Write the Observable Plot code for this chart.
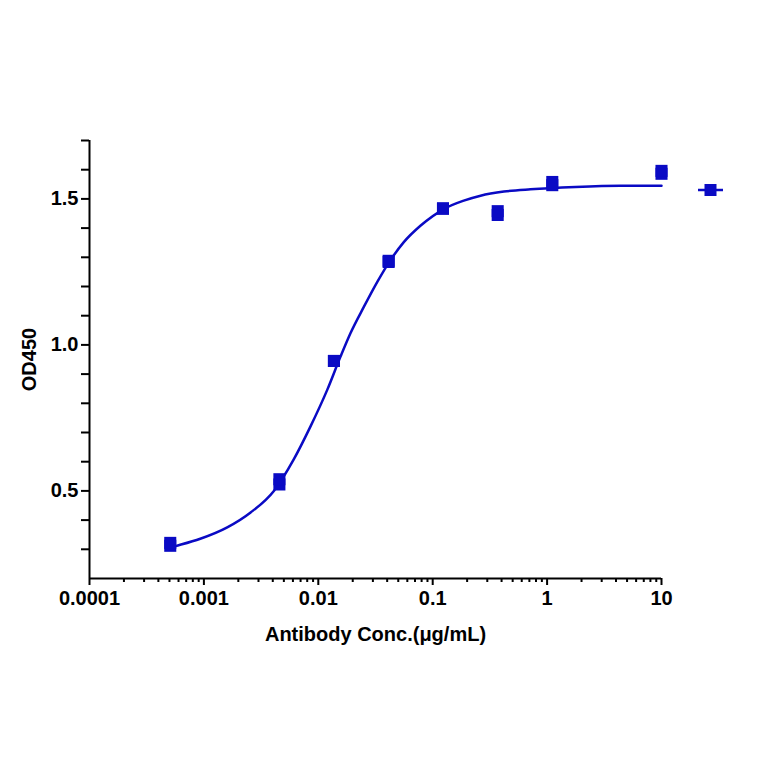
<!DOCTYPE html>
<html>
<head>
<meta charset="utf-8">
<script src="https://cdn.jsdelivr.net/npm/d3@7"></script>
<script src="https://cdn.jsdelivr.net/npm/@observablehq/plot@0.6"></script>
<style>
  html, body { margin: 0; padding: 0; background: #ffffff; }
  #wrap { position: relative; width: 764px; height: 764px; }
  #legend { position: absolute; left: 696px; top: 183px; }
</style>
</head>
<body>
<div id="wrap">
  <div id="chart"></div>
  <div id="legend"></div>
</div>
<script>
// Concentrations (µg/mL) of measured points, two replicates each
const conc = [0.000508, 0.00457, 0.0137, 0.0412, 0.123, 0.370, 1.11, 10];
const rep1 = [0.312, 0.522, 0.945, 1.284, 1.466, 1.445, 1.547, 1.586];
const rep2 = [0.322, 0.540, 0.945, 1.288, 1.468, 1.458, 1.558, 1.596];

// Fitted curve
const curveX = [0.000508, 0.000565, 0.00093, 0.0016, 0.00256, 0.00409, 0.0061, 0.00855, 0.01197, 0.01564, 0.0191, 0.025, 0.0327, 0.0422, 0.0559, 0.0781, 0.1276, 0.187, 0.262, 0.419, 0.716, 1.77, 4.38, 10];
const curveY = [0.306, 0.311, 0.336, 0.375, 0.426, 0.500, 0.608, 0.721, 0.846, 0.960, 1.040, 1.130, 1.215, 1.287, 1.352, 1.408, 1.467, 1.494, 1.511, 1.525, 1.533, 1.541, 1.545, 1.545];

// Axis ticks
const xMajorTicks = [0.0001, 0.001, 0.01, 0.1, 1, 10];
const xMajorLabels = ["0.0001", "0.001", "0.01", "0.1", "1", "10"];
const xMinorSteps = [2, 3, 4, 5, 6, 7, 8, 9];
const yTicks = [0.3, 0.4, 0.5, 0.6, 0.7, 0.8, 0.9, 1.0, 1.1, 1.2, 1.3, 1.4, 1.5, 1.6, 1.7];
const yLabelTicks = [0.5, 1.0, 1.5];
const yLabels = ["0.5", "1.0", "1.5"];
const xDomain = [0.0001, 10];
const yDomain = [0.2, 1.7];

const blue = "#0a0ac4";

const points = [];
conc.forEach((c, i) => { points.push({x: c, y: rep1[i]}); points.push({x: c, y: rep2[i]}); });
const curve = curveX.map((x, i) => ({x, y: curveY[i]}));

const xMinorTicks = [];
xMajorTicks.slice(0, -1).forEach(m => xMinorSteps.forEach(s => xMinorTicks.push(m * s)));
const xLabelMap = new Map(xMajorTicks.map((t, i) => [t, xMajorLabels[i]]));
const yLabelMap = new Map(yLabelTicks.map((t, i) => [t, yLabels[i]]));

const chart = Plot.plot({
  width: 764,
  height: 764,
  marginLeft: 89,
  marginRight: 103,
  marginTop: 140,
  marginBottom: 186,
  x: {type: "log", domain: xDomain},
  y: {domain: yDomain},
  style: {fontFamily: "'Liberation Sans', Arial, sans-serif", fontWeight: "bold", fontSize: "20px", color: "#000", background: "#fff"},
  marks: [
    Plot.axisX({ticks: xMinorTicks, tickSize: 4, strokeWidth: 2, tickFormat: () => "", label: null}),
    Plot.axisX({ticks: xMajorTicks, tickSize: 7, strokeWidth: 2, tickPadding: 5, tickFormat: d => xLabelMap.get(d) ?? "",
      label: "Antibody Conc.(μg/mL)", labelAnchor: "center", labelOffset: 62, labelArrow: "none"}),
    Plot.axisY({ticks: yTicks, tickSize: 8, strokeWidth: 2, tickPadding: 3,
      tickFormat: d => yLabelMap.get(Math.round(d * 10) / 10) ?? "",
      label: "OD450", labelAnchor: "center", labelOffset: 68, labelArrow: "none"}),
    Plot.ruleX([xDomain[0]], {stroke: "#000", strokeWidth: 2}),
    Plot.ruleY([yDomain[0]], {stroke: "#000", strokeWidth: 2}),
    Plot.line(curve, {x: "x", y: "y", stroke: blue, strokeWidth: 2.5, curve: "monotone-x"}),
    Plot.dot(points, {x: "x", y: "y", symbol: "square", r: 6.8, fill: blue, stroke: "none"})
  ]
});
document.getElementById("chart").appendChild(chart);

// Legend symbol (no text in the original)
const ns = "http://www.w3.org/2000/svg";
const lg = document.createElementNS(ns, "svg");
lg.setAttribute("width", "30");
lg.setAttribute("height", "14");
const ln = document.createElementNS(ns, "line");
ln.setAttribute("x1", "2"); ln.setAttribute("x2", "27"); ln.setAttribute("y1", "7"); ln.setAttribute("y2", "7");
ln.setAttribute("stroke", blue); ln.setAttribute("stroke-width", "2.5");
const sq = document.createElementNS(ns, "rect");
sq.setAttribute("x", "8.5"); sq.setAttribute("y", "1"); sq.setAttribute("width", "12"); sq.setAttribute("height", "12");
sq.setAttribute("fill", blue);
lg.appendChild(ln); lg.appendChild(sq);
document.getElementById("legend").appendChild(lg);
</script>
</body>
</html>
